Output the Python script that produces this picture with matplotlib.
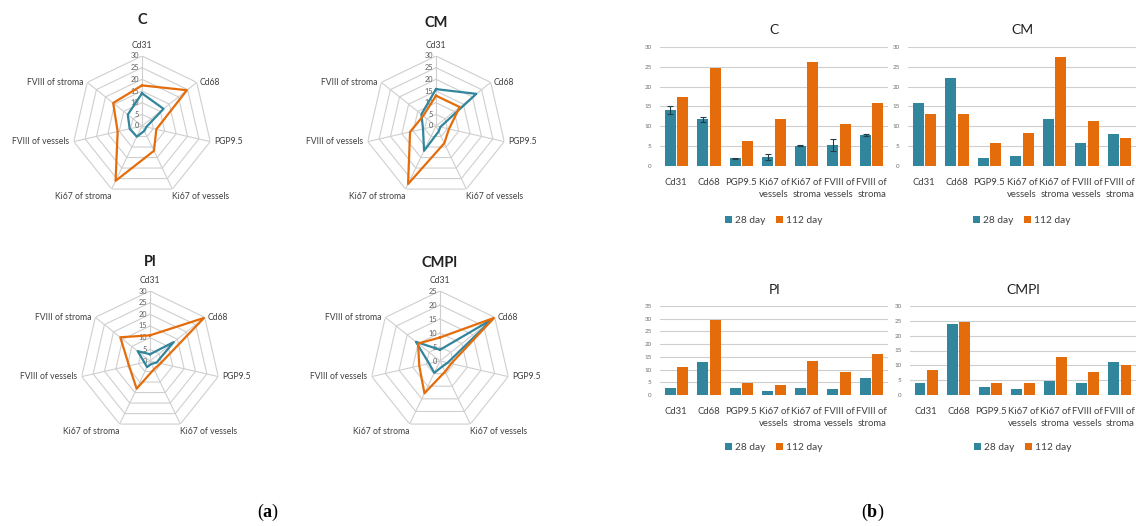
import numpy as np
import matplotlib
matplotlib.use("Agg")
import matplotlib.pyplot as plt

# ── Data ─────────────────────────────────────────────────────────────────────
categories = ['Cd31', 'Cd68', 'PGP9.5', 'Ki67 of vessels', 'Ki67 of stroma',
              'FVIII of vessels', 'FVIII of stroma']

c_28 = [14.0, 11.8, 1.9, 2.3, 5.1, 5.4, 7.8]
c_28_err = [1.0, 0.6, 0.2, 0.8, 0.15, 1.5, 0.3]
c_112 = [17.4, 24.6, 6.3, 11.8, 26.1, 10.7, 15.8]

cm_28 = [15.8, 22.1, 1.9, 2.6, 11.8, 5.7, 8.0]
cm_112 = [13.0, 13.0, 5.7, 8.2, 27.6, 11.4, 7.0]

pl_28 = [2.9, 13.0, 2.9, 1.4, 2.9, 2.5, 6.8]
pl_112 = [11.0, 29.6, 4.6, 3.9, 13.2, 9.2, 16.3]

cmpl_28 = [4.0, 24.1, 2.8, 2.1, 4.7, 4.0, 11.0]
cmpl_112 = [8.4, 24.7, 4.1, 4.2, 12.8, 7.6, 10.0]

series_names = ['28 day', '112 day']
# ─────────────────────────────────────────────────────────────────────────────

TEAL = '#31859C'
ORANGE = '#E46C0A'
GRID = '#cfcfcf'
TXT = '#404040'

W, H = 1136, 526
plt.rcParams['font.family'] = ['Lato', 'DejaVu Sans']
plt.rcParams['mathtext.fontset'] = 'custom'
plt.rcParams['mathtext.rm'] = 'Liberation Serif'
plt.rcParams['mathtext.bf'] = 'Liberation Serif:bold'

fig = plt.figure(figsize=(W / 100, H / 100), dpi=100)


def px_axes(left, top, right, bottom, **kw):
    """Axes placed by pixel box (top-left origin)."""
    return fig.add_axes([left / W, 1 - bottom / H, (right - left) / W,
                         (bottom - top) / H], **kw)


# label placement around the heptagon: (dx, dy) in points, ha, va
LABEL_POS = [((0, 4), 'center', 'bottom'),
             ((2, 0), 'left', 'center'),
             ((3, 0), 'left', 'center'),
             ((0, -2), 'left', 'top'),
             ((0, -2), 'right', 'top'),
             ((-3, 0), 'right', 'center'),
             ((-3, 0), 'right', 'center')]


def radar(cx, cy, vals28, vals112, rmax, title, title_y):
    R = 70
    ax = px_axes(cx - R, cy - R, cx + R, cy + R, projection='polar')
    n = len(categories)
    theta = np.arange(n) * 2 * np.pi / n
    th_c = np.append(theta, theta[0])
    ax.set_theta_offset(np.pi / 2)
    ax.set_theta_direction(-1)
    ax.set_ylim(0, rmax)
    ax.set_xticks([])
    ax.set_yticks([])
    ax.grid(False)
    ax.spines['polar'].set_visible(False)
    ax.patch.set_visible(False)

    for r in np.arange(5, rmax + 1, 5):
        ax.plot(th_c, [r] * (n + 1), color=GRID, lw=0.8, zorder=1)
    for t in theta:
        ax.plot([t, t], [0, rmax], color=GRID, lw=0.8, zorder=1)
    for r in np.arange(0, rmax + 1, 5):
        ax.annotate(str(r), xy=(0, r), xytext=(-2, 0), textcoords='offset points',
                    ha='right', va='center', fontsize=5.3, color='#606060')

    ax.plot(th_c, np.append(vals28, vals28[0]), color=TEAL, lw=1.6, zorder=3)
    ax.plot(th_c, np.append(vals112, vals112[0]), color=ORANGE, lw=1.6, zorder=3)

    for t, lab, (off, ha, va) in zip(theta, categories, LABEL_POS):
        ax.annotate(lab, xy=(t, rmax), xytext=off, textcoords='offset points',
                    ha=ha, va=va, fontsize=6.2, color=TXT, annotation_clip=False)
    fig.text(cx / W, 1 - title_y / H, title, ha='center', va='center',
             fontsize=10.5, fontweight='bold', color='#222222')


def bars(left, top, right, bottom, vals28, vals112, ymax, title, legend_y,
         err28=None):
    ax = px_axes(left, top, right, bottom)
    x = np.arange(len(categories))
    w = 0.34
    ax.bar(x - 0.19, vals28, w, color=TEAL, label=series_names[0], zorder=3)
    ax.bar(x + 0.19, vals112, w, color=ORANGE, label=series_names[1], zorder=3)
    if err28 is not None:
        ax.errorbar(x - 0.19, vals28, yerr=err28, fmt='none', ecolor='#1f3f4a',
                    elinewidth=0.8, capsize=2, capthick=0.8, zorder=4)
    ax.set_xlim(-0.5, len(categories) - 0.5)
    ax.set_ylim(0, ymax)
    ax.set_yticks(np.arange(0, ymax + 1, 5))
    ax.yaxis.grid(True, color=GRID, lw=0.8, zorder=0)
    ax.set_axisbelow(True)
    for s in ax.spines.values():
        s.set_visible(False)
    ax.set_xticks(x)
    ax.set_xticklabels([c.replace(' of ', ' of\n') for c in categories],
                       fontsize=6.8, color=TXT, va='top', linespacing=1.35)
    ax.tick_params(axis='x', length=0, pad=9)
    ax.tick_params(axis='y', length=0, labelsize=4.5, labelcolor='#707070', pad=6)
    ax.set_title(title, fontsize=10, color='#222222', pad=9)
    ax.legend(loc='center', bbox_to_anchor=(0.5, legend_y), ncol=2, frameon=False,
              fontsize=7.3, handlelength=0.7, handleheight=0.7,
              handletextpad=0.3, columnspacing=1.0, labelcolor=TXT)
    return ax


# (a) radar panels
radar(142, 126, c_28, c_112, 30, 'C', 20)
radar(436, 126, cm_28, cm_112, 30, 'CM', 23)
radar(150, 361, pl_28, pl_112, 30, 'Pl', 262)
radar(440, 361, cmpl_28, cmpl_112, 25, 'CMPl', 263)

# (b) bar panels
bars(660, 47, 888, 166, c_28, c_112, 30, 'C', -0.46, err28=c_28_err)
bars(908, 47, 1136, 166, cm_28, cm_112, 30, 'CM', -0.46)
bars(660, 306, 888, 395, pl_28, pl_112, 35, 'Pl', -0.59)
bars(910, 306, 1136, 395, cmpl_28, cmpl_112, 30, 'CMPl', -0.59)

fig.text(268 / W, 1 - 512 / H, r'($\mathbf{a}$)', ha='center', va='center',
         fontsize=13, family='Liberation Serif')
fig.text(873 / W, 1 - 512 / H, r'($\mathbf{b}$)', ha='center', va='center',
         fontsize=13, family='Liberation Serif')

fig.savefig('out.png', dpi=100)
